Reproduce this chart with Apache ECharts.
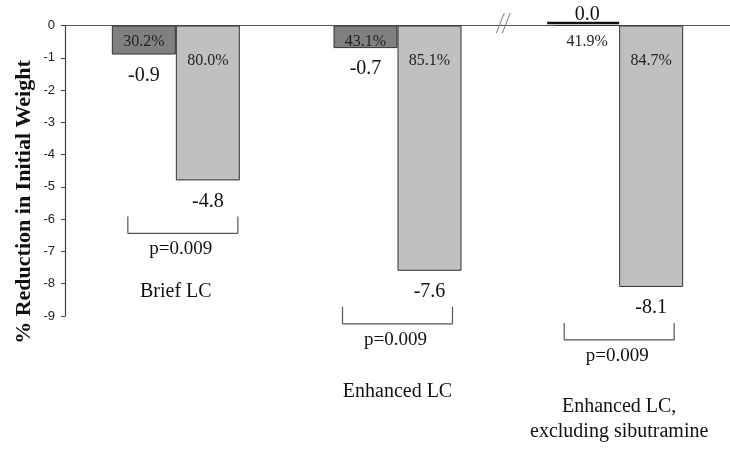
<!DOCTYPE html>
<html>
<head>
<meta charset="utf-8">
<script src="https://cdn.jsdelivr.net/npm/echarts@6/dist/echarts.min.js"></script>
<style>html,body{margin:0;padding:0;background:#fff;}#c{width:730px;height:451px;}</style>
</head>
<body>
<div id="c"></div>
<script>
// ---- data ----
const categories = ['Brief LC', 'Enhanced LC', 'Enhanced LC,\nexcluding sibutramine'];
const darkValues = [-0.9, -0.7, 0.0];
const lightValues = [-4.8, -7.6, -8.1];
const darkPct = ['30.2%', '43.1%', '41.9%'];
const lightPct = ['80.0%', '85.1%', '84.7%'];
const pLabels = ['p=0.009', 'p=0.009', 'p=0.009'];
const yAxisTitle = '% Reduction in Initial Weight';

// ---- layout / style (not data) ----
const SERIF = '"Liberation Serif", "Times New Roman", serif';
const BAR_W = 64;
const bracketShift = [7, 0, 0];
const catLabelGap = [42, 52, 51];

const chart = echarts.init(document.getElementById('c'), null, {renderer: 'canvas'});

function valueLabel(v) {
  return {
    value: v,
    label: {
      show: true,
      position: v === 0 ? 'top' : 'bottom',
      distance: v === 0 ? 0 : 11,
      formatter: p => p.value.toFixed(1),
      fontFamily: SERIF, fontSize: 20, color: '#111'
    }
  };
}

function renderAnno(params, api) {
  const i = api.value(0);
  const c = api.coord([i, 0]);
  const cx = c[0], y0 = c[1];
  const band = api.size([1, 0])[0];
  const children = [];
  const txt = (text, x, y, size, extra) => children.push({
    type: 'text',
    style: Object.assign({text, x, y, align: 'center', verticalAlign: 'middle',
      font: size + 'px ' + SERIF, fill: '#111'}, extra || {})
  });
  const line = (x1, y1, x2, y2, w, col) => children.push({
    type: 'line', shape: {x1, y1, x2, y2},
    style: {stroke: col || '#404040', lineWidth: w || 1}
  });
  // percent labels inside bars
  txt(darkPct[i], cx - BAR_W / 2, y0 + 16, 16, {fill: '#222'});
  txt(lightPct[i], cx + BAR_W / 2, y0 + 35, 16, {fill: '#222'});
  // zero-valued dark bar drawn as a thick line above the axis
  if (darkValues[i] === 0) {
    line(cx - BAR_W - 8, y0 - 2.5, cx, y0 - 2.5, 2.5, '#111');
  }
  // bracket + p value
  const lb = api.coord([i, lightValues[i]])[1];
  const bt = lb + 36, bb = bt + 17;
  const bl = cx - 55 + bracketShift[i], br = cx + 55 + bracketShift[i];
  line(bl, bt, bl, bb, 1.2, '#555');
  line(bl, bb, br, bb, 1.2, '#555');
  line(br, bt, br, bb, 1.2, '#555');
  const py = bb + 16;
  txt(pLabels[i], (bl + br) / 2 - 2, py, 19);
  // category label
  children.push({
    type: 'text',
    style: {text: categories[i], x: cx, y: py + catLabelGap[i] - 12.5,
      align: 'center', verticalAlign: 'top', lineHeight: 25,
      font: '20px ' + SERIF, fill: '#111'}
  });
  // axis break marks between 2nd and 3rd groups
  if (i === 1) {
    const bx = cx + band / 2;
    line(bx - 12, y0 + 7.5, bx - 4, y0 - 12.5, 1, '#777');
    line(bx - 6, y0 + 7.5, bx + 2, y0 - 12.5, 1, '#777');
  }
  return {type: 'group', children};
}

chart.setOption({
  animation: false,
  backgroundColor: '#fff',
  grid: {left: 65, right: 0, top: 25.5, bottom: 135, containLabel: false},
  xAxis: {
    type: 'category', data: categories,
    axisLine: {show: true, lineStyle: {color: '#595959', width: 1}},
    axisTick: {show: false}, axisLabel: {show: false}, splitLine: {show: false}
  },
  yAxis: {
    type: 'value', min: -9, max: 0, interval: 1,
    axisLine: {show: true, lineStyle: {color: '#404040', width: 1.2}},
    axisTick: {show: true, inside: false, length: 4, lineStyle: {color: '#404040'}},
    axisLabel: {fontFamily: '"Liberation Sans", Arial, sans-serif', fontSize: 13, color: '#222', margin: 10},
    splitLine: {show: false}
  },
  graphic: [{
    type: 'text', x: 24, y: 202, rotation: Math.PI / 2,
    style: {text: yAxisTitle, align: 'center', verticalAlign: 'middle',
      font: 'bold 22px ' + SERIF, fill: '#111'}
  }],
  series: [
    {
      name: 'Dark', type: 'bar', barWidth: BAR_W, barGap: '0%',
      itemStyle: {color: '#808080', borderColor: '#333', borderWidth: 1},
      data: darkValues.map(valueLabel), z: 2
    },
    {
      name: 'Light', type: 'bar', barWidth: BAR_W, barGap: '0%',
      itemStyle: {color: '#c0c0c0', borderColor: '#333', borderWidth: 1},
      data: lightValues.map(valueLabel), z: 2
    },
    {
      name: 'Annotations', type: 'custom', clip: false, z: 5,
      data: categories.map((_, i) => [i]),
      renderItem: renderAnno, silent: true
    }
  ]
});
</script>
</body>
</html>
